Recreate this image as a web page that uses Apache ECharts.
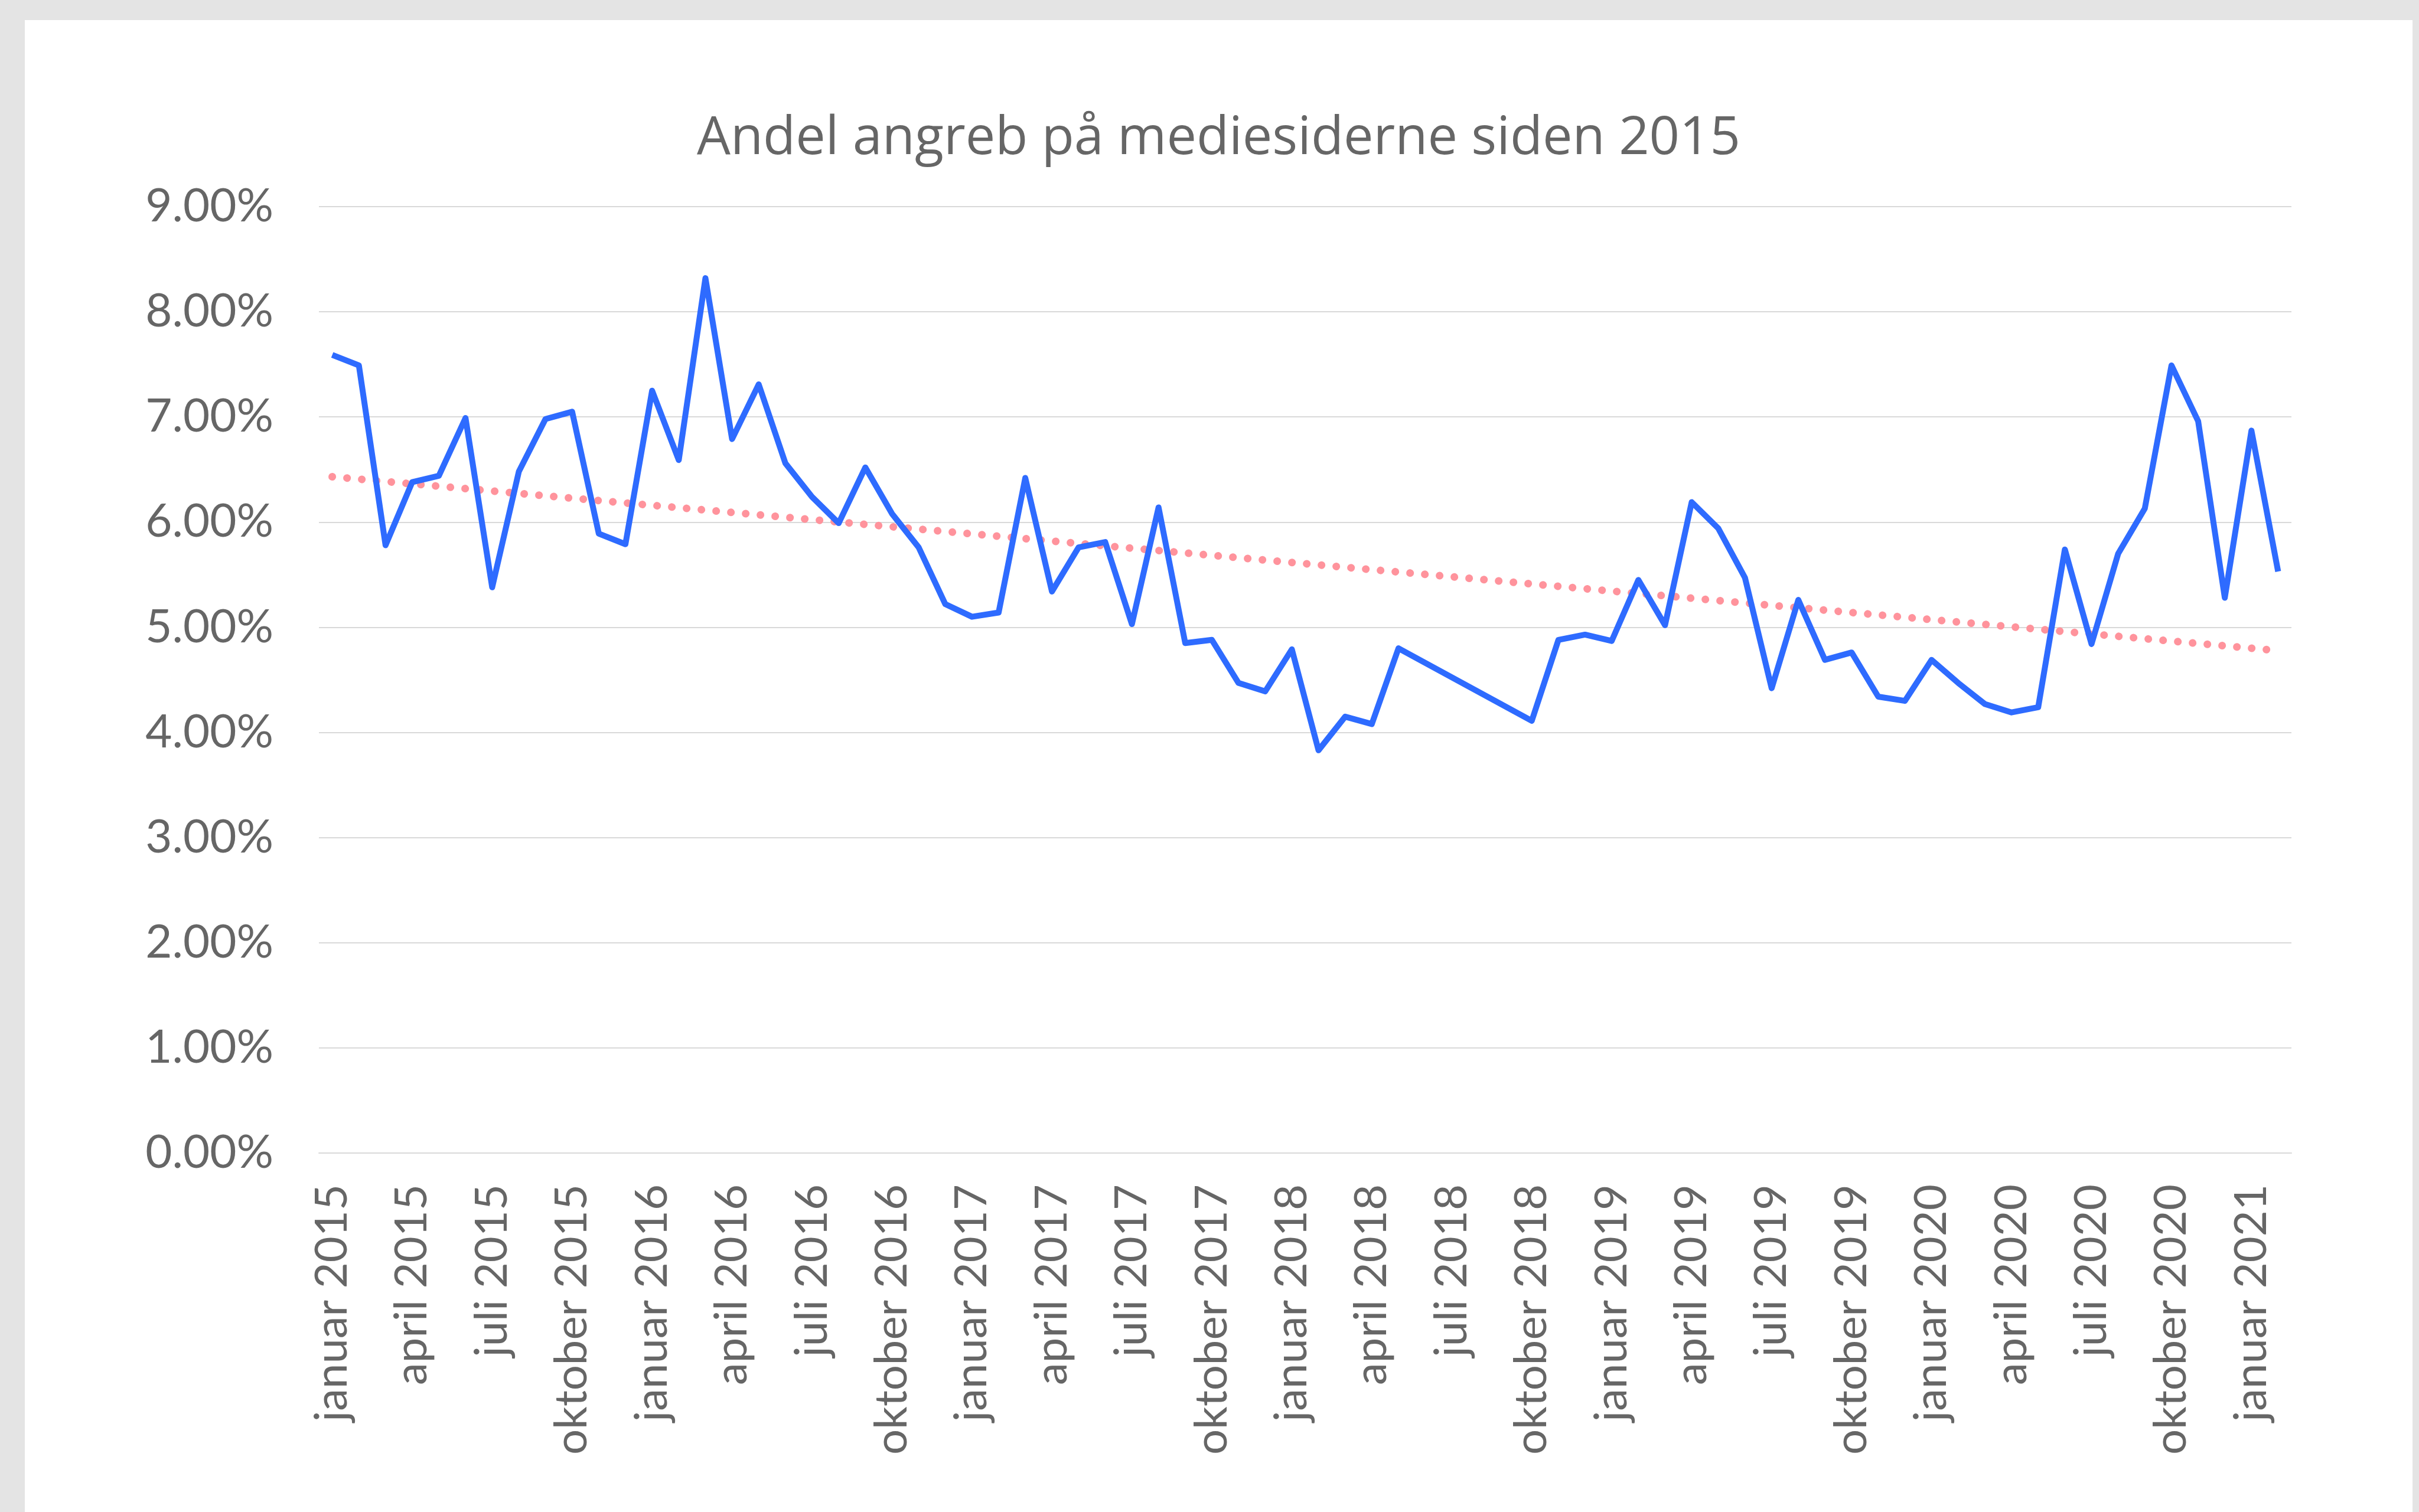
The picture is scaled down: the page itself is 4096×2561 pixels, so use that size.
<!DOCTYPE html>
<html lang="da">
<head>
<meta charset="utf-8">
<title>Andel angreb på mediesiderne siden 2015</title>
<script src="https://cdn.jsdelivr.net/npm/echarts@6/dist/echarts.min.js"></script>
<style>
  html, body { margin: 0; padding: 0; width: 4096px; height: 2561px; overflow: hidden; background: #e4e4e4; }
  .card { position: absolute; left: 42px; top: 34px; right: 11px; bottom: 0; background: #fff; }
  #chart { position: absolute; left: 0; top: 0; width: 4096px; height: 2561px; }
</style>
</head>
<body>
<div class="card"></div>
<div id="chart"></div>
<script>
// monthly share of attacks, Jan 2015 – Feb 2021 (percent); null = no data that month
const monthNames = ['januar', 'februar', 'marts', 'april', 'maj', 'juni', 'juli', 'august', 'september', 'oktober', 'november', 'december']
const years = [2015, 2016, 2017, 2018, 2019, 2020, 2021]
const monthCount = 74

const share2015 = [7.59, 7.49, 5.78, 6.38, 6.44, 6.99, 5.38, 6.48, 6.98, 7.05, 5.89, 5.79]
const share2016 = [7.25, 6.59, 8.32, 6.79, 7.31, 6.56, 6.24, 5.99, 6.52, 6.08, 5.76, 5.22]
const share2017 = [5.10, 5.14, 6.42, 5.34, 5.76, 5.81, 5.03, 6.14, 4.85, 4.88, 4.47, 4.39]
const share2018 = [4.79, 3.83, 4.15, 4.08, 4.80, null, null, null, null, 4.11, 4.88, 4.93]
const share2019 = [4.87, 5.45, 5.02, 6.19, 5.94, 5.47, 4.42, 5.26, 4.69, 4.76, 4.34, 4.30]
const share2020 = [4.69, 4.47, 4.27, 4.19, 4.24, 5.74, 4.84, 5.70, 6.13, 7.49, 6.96, 5.28]
const share2021 = [6.87, 5.53]

const yTicks = { min: 0, max: 9, step: 1 }

const categories = []
for (let i = 0; i < monthCount; i++) {
  categories.push(`${monthNames[i % 12]} ${years[Math.floor(i / 12)]}`)
}
const shares = [...share2015, ...share2016, ...share2017, ...share2018, ...share2019, ...share2020, ...share2021]

// linear trend (least squares over the months that have data), like the spreadsheet trendline
function trend(values) {
  const pts = values.map((v, i) => [i, v]).filter(p => p[1] != null)
  const n = pts.length
  const sx = pts.reduce((s, p) => s + p[0], 0)
  const sy = pts.reduce((s, p) => s + p[1], 0)
  const sxx = pts.reduce((s, p) => s + p[0] * p[0], 0)
  const sxy = pts.reduce((s, p) => s + p[0] * p[1], 0)
  const slope = (n * sxy - sx * sy) / (n * sxx - sx * sx)
  const icpt = (sy - slope * sx) / n
  return values.map((_, i) => +(icpt + slope * i).toFixed(4))
}

const font = 'Lato, "Open Sans", sans-serif'
const titleFont = '"Open Sans", Lato, sans-serif'
const textColor = '#666666'
const gridColor = '#d9d9d9'

const chart = echarts.init(document.getElementById('chart'), null, { renderer: 'canvas' })
chart.setOption({
  animation: false,
  backgroundColor: 'transparent',
  title: {
    text: 'Andel angreb på mediesiderne siden 2015',
    left: 1180,
    top: 190,
    padding: 0,
    textStyle: { fontFamily: titleFont, fontSize: 90, fontWeight: 'normal', color: textColor },
  },
  grid: { left: 540, right: 216, top: 350, bottom: 608, containLabel: false },
  xAxis: {
    type: 'category',
    data: categories,
    boundaryGap: true,
    axisLine: { lineStyle: { color: gridColor, width: 2 } },
    axisTick: { interval: 2, length: 26, lineStyle: { color: gridColor, width: 2 } },
    axisLabel: {
      interval: 2,
      rotate: 90,
      margin: 53,
      fontFamily: font,
      fontSize: 76,
      color: textColor,
    },
    splitLine: { show: false },
  },
  yAxis: {
    type: 'value',
    min: yTicks.min,
    max: yTicks.max,
    interval: yTicks.step,
    axisLine: { show: false },
    axisTick: { show: false },
    axisLabel: {
      margin: 77,
      fontFamily: font,
      fontSize: 78,
      color: textColor,
      formatter: (v) => v.toFixed(2) + '%',
    },
    splitLine: { lineStyle: { color: gridColor, width: 2 } },
  },
  series: [
    {
      name: 'Andel angreb',
      type: 'line',
      data: shares,
      connectNulls: true,
      showSymbol: false,
      symbol: 'none',
      lineStyle: { color: '#2e6bff', width: 10, join: 'round' },
      z: 3,
    },
    {
      name: 'Lineær tendens',
      type: 'line',
      data: trend(shares),
      showSymbol: false,
      symbol: 'none',
      lineStyle: { color: '#ff939c', width: 13, type: [0.1, 25], cap: 'round' },
      z: 2,
    },
  ],
})
</script>
</body>
</html>
